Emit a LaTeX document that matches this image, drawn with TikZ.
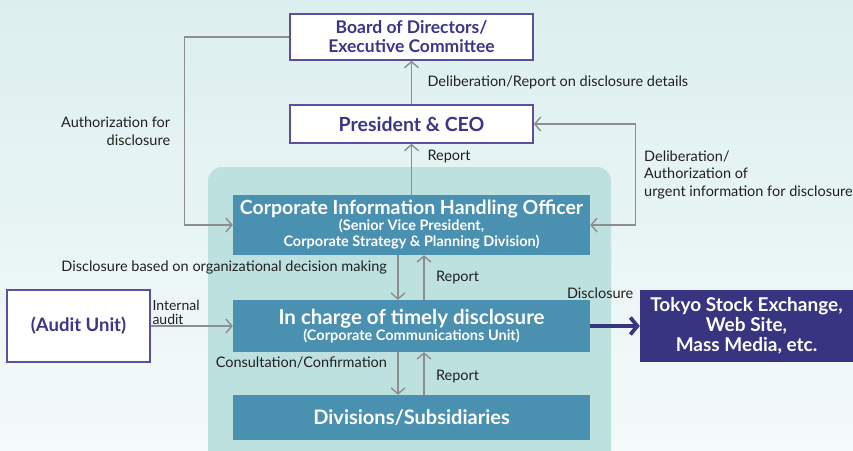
\documentclass[tikz,border=0pt]{standalone}
\usepackage{fontspec}
\setmainfont{Lato}
\usetikzlibrary{arrows.meta}

\definecolor{bgTop}{HTML}{DCEFEF}
\definecolor{bgBottom}{HTML}{F5FAFA}
\definecolor{panelTeal}{HTML}{BDE1DF}
\definecolor{boxBlue}{HTML}{4A90B1}
\definecolor{boxBorder}{HTML}{5C4F9F}
\definecolor{boxText}{HTML}{3B3689}
\definecolor{tokyoNavy}{HTML}{37357F}
\definecolor{arrowGray}{HTML}{8D8D8D}
\definecolor{labelText}{HTML}{231F20}

\newcommand{\subFont}{\fontsize{14.5}{16}\selectfont}

\begin{document}
\begin{tikzpicture}[x=1pt,y=-1pt,>={Straight Barb[length=6pt,width=14pt]}]
    \tikzstyle{every node} = [font=\fontsize{14.5}{17.5}\selectfont, text=labelText]
    \tikzstyle{whiteBlock} = [draw=boxBorder, line width=1.6pt, fill=white, text=boxText, align=center, inner sep=0pt, font=\bfseries\fontsize{17.5}{19}\selectfont]
    \tikzstyle{blueBlock} = [fill=boxBlue, text=white, align=center, inner sep=0pt, minimum width=357, font=\bfseries\fontsize{19.5}{16}\selectfont]
    \tikzstyle{link} = [draw=arrowGray, line width=1.4pt]

    % background
    \useasboundingbox (0,0) rectangle (853,450);
    \clip (0,0) rectangle (853,450);
    \shade[top color=bgTop, bottom color=bgBottom] (0,0) rectangle (853,450);
    \fill[panelTeal, rounded corners=14pt] (208,167) rectangle (611,480);

    % place nodes
    \node[whiteBlock, minimum width=243, minimum height=46] (board) at (411.5,37) {Board of Directors/\\Executive Committee};
    \node[whiteBlock, minimum width=243, minimum height=38, font=\bfseries\fontsize{19.5}{20}\selectfont] (president) at (411.5,124) {President \& CEO};
    \node[blueBlock, minimum height=60] (officer) at (411.5,225)
        {Corporate Information Handling Officer\\
         {\subFont(Senior Vice President,}\\
         {\subFont Corporate Strategy \& Planning Division)}};
    \node[blueBlock, minimum height=52, font=\bfseries\fontsize{20.5}{16}\selectfont] (timely) at (411.5,326)
        {In charge of timely disclosure\\
         {\subFont(Corporate Communications Unit)}};
    \node[blueBlock, minimum height=45, font=\bfseries\fontsize{20}{20}\selectfont] (divisions) at (411.5,417.5) {Divisions/Subsidiaries};
    \node[whiteBlock, minimum width=143, minimum height=72, font=\bfseries\fontsize{18.5}{20}\selectfont] (audit) at (78.5,326) {(Audit Unit)};
    \node[fill=tokyoNavy, text=white, align=center, inner sep=0pt, minimum width=213, minimum height=72,
        font=\bfseries\fontsize{19}{20}\selectfont] (tokyo) at (746.5,326)
        {Tokyo Stock Exchange,\\Web Site,\\Mass Media, etc.};

    % Connections
    \draw[->,link] (president.north) --node[right=12pt]{Deliberation/Report on disclosure details} (board.south);
    \draw[->,link] (officer.north) --node[near end,right=12pt]{Report} (president.south);
    \draw[->,link] (board.west) -- ++(-105,0) |- node[pos=0.25,left=10pt,align=right]{Authorization for\\disclosure} (officer.west);
    \draw[<->,link] (officer.east) -- ++(45,0) |- node[pos=0.25,right=5pt,align=left]{Deliberation/\\Authorization of\\urgent information for disclosure} (president.east);

    \draw[->,link] ([xshift=-13.5]officer.south) --node[pos=0.27,left=7pt]{Disclosure based on organizational decision making} ([xshift=-13.5]timely.north);
    \draw[->,link] ([xshift=12.5]timely.north) --node[right=8pt]{Report} ([xshift=12.5]officer.south);
    \draw[->,link] ([xshift=-13.5]timely.south) --node[pos=0.25,left=7pt]{Consultation/Confirmation} ([xshift=-13.5]divisions.north);
    \draw[->,link] ([xshift=12.5]divisions.north) --node[pos=0.44,right=8pt]{Report} ([xshift=12.5]timely.south);

    \draw[->,link] (audit.east) --node[pos=0,above right,align=left,inner sep=1pt,font=\fontsize{14}{14}\selectfont]{Internal\\audit} (timely.west);
    \draw[-{Straight Barb[length=7pt,width=17pt]},draw=tokyoNavy,line width=3.8pt] (timely.east) --node[pos=0.2,above=22pt]{Disclosure} (tokyo.west);
  \end{tikzpicture}
\end{document}
